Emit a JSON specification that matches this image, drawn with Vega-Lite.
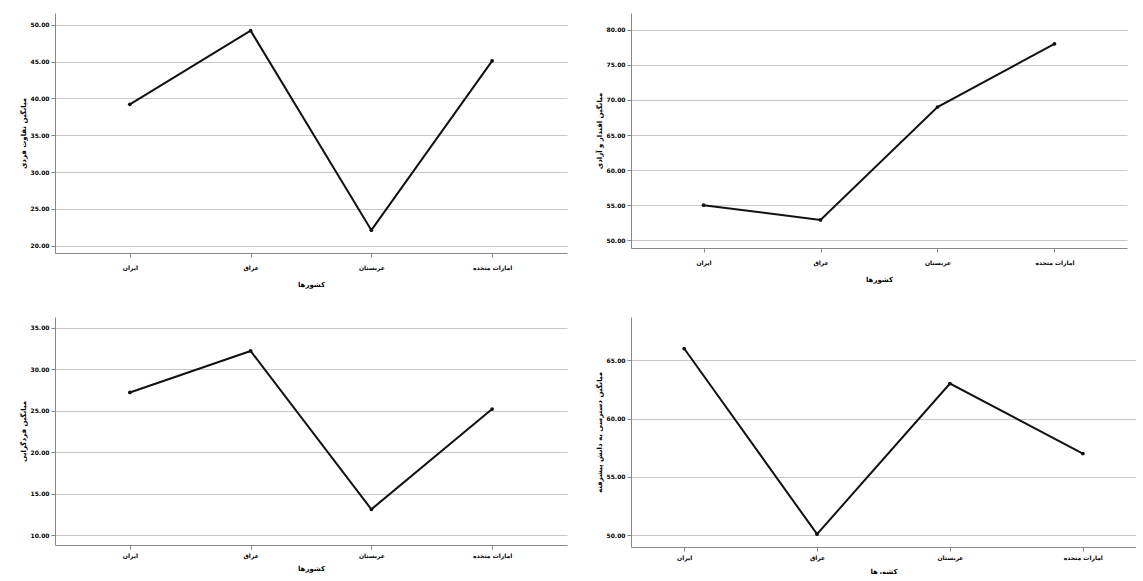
{
  "$schema": "https://vega.github.io/schema/vega-lite/v6.json",
  "background": "white",
  "padding": {"left": 19, "top": 13, "right": 0, "bottom": 0},
  "config": {
    "view": {"stroke": null},
    "axis": {
      "labelFont": "DejaVu Sans", "labelFontWeight": "bold", "labelFontSize": 6, "labelColor": "#000",
      "titleFont": "DejaVu Sans", "titleFontWeight": "bold", "titleFontSize": 7, "titleColor": "#000",
      "domainColor": "#888", "tickColor": "#888", "gridColor": "#c8c8c8", "tickSize": 4
    }
  },
  "datasets": {
    "d": [
      {"country": "ایران", "m1": 39.2, "m2": 55.0, "m3": 27.2, "m4": 66.0},
      {"country": "عراق", "m1": 49.2, "m2": 52.9, "m3": 32.2, "m4": 50.1},
      {"country": "عربستان", "m1": 22.1, "m2": 69.0, "m3": 13.1, "m4": 63.0},
      {"country": "امارات متحده", "m1": 45.1, "m2": 78.0, "m3": 25.2, "m4": 57.0}
    ]
  },
  "columns": 2,
  "spacing": {"column": 28, "row": 30},
  "concat": [
    {
      "width": 512, "height": 240,
      "data": {"name": "d"},
      "mark": {"type": "line", "color": "#111", "strokeWidth": 2, "point": {"filled": true, "size": 14, "color": "#111"}},
      "encoding": {
        "x": {"field": "country", "type": "nominal", "sort": ["ایران", "عراق", "عربستان", "امارات متحده"], "scale": {"type": "point", "padding": 0.62}, "axis": {"title": "کشورها", "labelAngle": 0, "grid": false, "labelPadding": 7, "titlePadding": 10}},
        "y": {"field": "m1", "type": "quantitative", "scale": {"domain": [19, 51.6], "nice": false, "zero": false}, "axis": {"title": "میانگین تفاوت فردی", "values": [20, 25, 30, 35, 40, 45, 50], "format": ".2f"}}
      }
    },
    {
      "width": 496, "height": 235,
      "data": {"name": "d"},
      "mark": {"type": "line", "color": "#111", "strokeWidth": 2, "point": {"filled": true, "size": 14, "color": "#111"}},
      "encoding": {
        "x": {"field": "country", "type": "nominal", "sort": ["ایران", "عراق", "عربستان", "امارات متحده"], "scale": {"type": "point", "padding": 0.62}, "axis": {"title": "کشورها", "labelAngle": 0, "grid": false, "labelPadding": 7, "titlePadding": 10}},
        "y": {"field": "m2", "type": "quantitative", "scale": {"domain": [48.9, 82.4], "nice": false, "zero": false}, "axis": {"title": "میانگین اقتدار و آزادی", "values": [50, 55, 60, 65, 70, 75, 80], "format": ".2f"}}
      }
    },
    {
      "width": 512, "height": 228,
      "data": {"name": "d"},
      "mark": {"type": "line", "color": "#111", "strokeWidth": 2, "point": {"filled": true, "size": 14, "color": "#111"}},
      "encoding": {
        "x": {"field": "country", "type": "nominal", "sort": ["ایران", "عراق", "عربستان", "امارات متحده"], "scale": {"type": "point", "padding": 0.62}, "axis": {"title": "کشورها", "labelAngle": 0, "grid": false, "labelPadding": 3, "titlePadding": 6}},
        "y": {"field": "m3", "type": "quantitative", "scale": {"domain": [8.8, 36.3], "nice": false, "zero": false}, "axis": {"title": "میانگین فردگرایی", "values": [10, 15, 20, 25, 30, 35], "format": ".2f"}}
      }
    },
    {
      "width": 505, "height": 230,
      "data": {"name": "d"},
      "mark": {"type": "line", "color": "#111", "strokeWidth": 2, "point": {"filled": true, "size": 14, "color": "#111"}},
      "encoding": {
        "x": {"field": "country", "type": "nominal", "sort": ["ایران", "عراق", "عربستان", "امارات متحده"], "scale": {"type": "point", "padding": 0.4}, "axis": {"title": "کشورها", "labelAngle": 0, "grid": false, "labelPadding": 3, "titlePadding": 7}},
        "y": {"field": "m4", "type": "quantitative", "scale": {"domain": [49, 68.7], "nice": false, "zero": false}, "axis": {"title": "میانگین دسترسی به دانش پیشرفته", "values": [50, 55, 60, 65], "format": ".2f"}}
      }
    }
  ]
}
